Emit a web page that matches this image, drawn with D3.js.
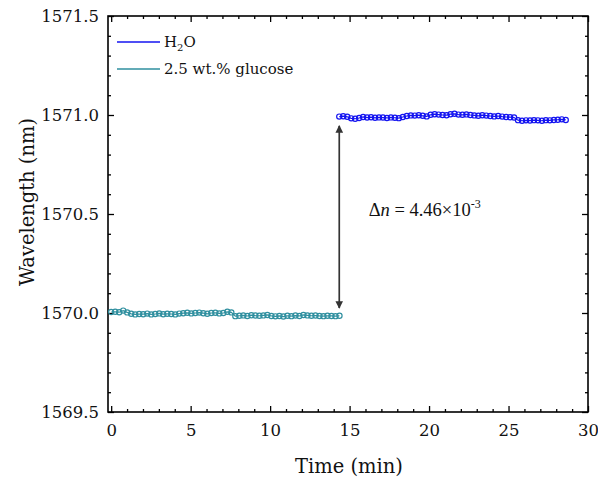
<!DOCTYPE html>
<html>
<head>
<meta charset="utf-8">
<script src="https://cdn.jsdelivr.net/npm/d3@7"></script>
<style>
  body { margin: 0; background: #fff; }
  svg { display: block; font-family: "DejaVu Serif", serif; }
</style>
</head>
<body>
<svg id="chart" width="598" height="480"></svg>
<script>
// sampling: start time and step (min)
const glucoseStart = 0
const glucoseStep = 0.252
const waterStart = 14.35
const waterStep = 0.25

// wavelength readings (nm)
const glucoseValues = [
  1570.005, 1570.006, 1570.004, 1570.012, 1570.003, 1569.996, 1569.993, 1569.995,
  1569.994, 1569.997, 1569.993, 1569.995, 1569.998, 1569.994, 1569.996, 1569.995,
  1569.993, 1569.997, 1569.999, 1570.001, 1569.998, 1570.000, 1570.002, 1569.999,
  1569.996, 1570.000, 1570.001, 1569.998, 1570.000, 1570.006, 1570.003, 1569.984,
  1569.986, 1569.988, 1569.985, 1569.989, 1569.987, 1569.986, 1569.988, 1569.990,
  1569.985, 1569.983, 1569.985, 1569.982, 1569.986, 1569.984, 1569.987, 1569.985,
  1569.990, 1569.988, 1569.986, 1569.987, 1569.985, 1569.984, 1569.986, 1569.985,
  1569.984, 1569.986
]
const waterValues = [
  1570.992, 1570.994, 1570.991, 1570.983, 1570.981, 1570.985, 1570.990, 1570.987,
  1570.989, 1570.986, 1570.988, 1570.987, 1570.985, 1570.988, 1570.986, 1570.984,
  1570.990, 1570.995, 1570.998, 1570.997, 1570.999, 1570.996, 1570.993, 1571.001,
  1571.004, 1571.002, 1571.000, 1570.999, 1571.004, 1571.006, 1571.002, 1571.001,
  1571.003, 1571.000, 1570.998, 1570.996, 1570.999, 1570.997, 1570.995, 1570.993,
  1570.995, 1570.992, 1570.990, 1570.989, 1570.987, 1570.974, 1570.971, 1570.973,
  1570.972, 1570.974, 1570.973, 1570.971, 1570.974, 1570.973, 1570.975, 1570.976,
  1570.978, 1570.975
]

const xTicks = [0, 5, 10, 15, 20, 25, 30]
const yTicks = [1569.5, 1570.0, 1570.5, 1571.0, 1571.5]

const seriesColors = {water: "#1414f0", glucose: "#2f8f9f"}

const arrowTime = 14.35
const arrowFrom = 1570.025
const arrowTo = 1570.945

const width = 598, height = 480
const m = {top: 16, right: 10, bottom: 68, left: 108}
const iw = width - m.left - m.right
const ih = height - m.top - m.bottom

const svg = d3.select("#chart")
const x = d3.scaleLinear().domain([-0.2, 30]).range([0, iw])
const y = d3.scaleLinear().domain([1569.5, 1571.5]).range([ih, 0])

const g = svg.append("g").attr("transform", `translate(${m.left},${m.top})`)

const toPoints = (vals, t0, dt) => vals.map((v, i) => ({t: t0 + i * dt, v}))
const glucose = toPoints(glucoseValues, glucoseStart, glucoseStep)
const water = toPoints(waterValues, waterStart, waterStep)

// ticks: inward, mirrored on all four sides
const minorX = d3.range(0, 31, 1).filter((d) => !xTicks.includes(d))
const minorY = d3.range(15695, 15716, 1).map((d) => d / 10).filter((d) => !yTicks.includes(d))

const tickStyle = (gg) => {
  gg.select(".domain").remove()
  gg.selectAll("line").attr("stroke", "#000").attr("stroke-width", 1.3)
}

g.append("g").attr("transform", `translate(0,${ih})`)
  .call(d3.axisBottom(x).tickValues(xTicks).tickSize(-6).tickPadding(12).tickFormat(d3.format("d")))
  .call(tickStyle)
  .call((gg) => gg.selectAll("text").attr("font-size", 16.5).attr("fill", "#111").attr("font-family", "DejaVu Serif"))
g.append("g").attr("transform", `translate(0,${ih})`)
  .call(d3.axisBottom(x).tickValues(minorX).tickSize(-3).tickFormat(""))
  .call(tickStyle)
g.append("g")
  .call(d3.axisTop(x).tickValues(xTicks).tickSize(-6).tickFormat(""))
  .call(tickStyle)
g.append("g")
  .call(d3.axisTop(x).tickValues(minorX).tickSize(-3).tickFormat(""))
  .call(tickStyle)

g.append("g")
  .call(d3.axisLeft(y).tickValues(yTicks).tickSize(-6).tickPadding(9).tickFormat(d3.format(".1f")))
  .call(tickStyle)
  .call((gg) => gg.selectAll("text").attr("font-size", 16.5).attr("fill", "#111").attr("font-family", "DejaVu Serif"))
g.append("g")
  .call(d3.axisLeft(y).tickValues(minorY).tickSize(-3).tickFormat(""))
  .call(tickStyle)
g.append("g").attr("transform", `translate(${iw},0)`)
  .call(d3.axisRight(y).tickValues(yTicks).tickSize(-6).tickFormat(""))
  .call(tickStyle)
g.append("g").attr("transform", `translate(${iw},0)`)
  .call(d3.axisRight(y).tickValues(minorY).tickSize(-3).tickFormat(""))
  .call(tickStyle)

g.append("rect")
  .attr("width", iw).attr("height", ih)
  .attr("fill", "none").attr("stroke", "#000").attr("stroke-width", 1.6)

// data
const line = d3.line().x((d) => x(d.t)).y((d) => y(d.v))

const drawSeries = (data, color) => {
  g.append("path").datum(data)
    .attr("d", line).attr("fill", "none")
    .attr("stroke", color).attr("stroke-width", 1.2)
  g.append("g").selectAll("circle").data(data).join("circle")
    .attr("cx", (d) => x(d.t)).attr("cy", (d) => y(d.v))
    .attr("r", 2.6).attr("fill", "none")
    .attr("stroke", color).attr("stroke-width", 1.2)
}
drawSeries(glucose, seriesColors.glucose)
drawSeries(water, seriesColors.water)

// double arrow
svg.append("defs").append("marker")
  .attr("id", "ah").attr("viewBox", "0 0 10 10")
  .attr("refX", 9).attr("refY", 5)
  .attr("markerWidth", 4.5).attr("markerHeight", 4.5)
  .attr("orient", "auto-start-reverse")
  .append("path").attr("d", "M0,0 L10,5 L0,10 z").attr("fill", "#333")

g.append("line")
  .attr("x1", x(arrowTime)).attr("x2", x(arrowTime))
  .attr("y1", y(arrowFrom)).attr("y2", y(arrowTo))
  .attr("stroke", "#333").attr("stroke-width", 1.7)
  .attr("marker-start", "url(#ah)").attr("marker-end", "url(#ah)")

const ann = g.append("text")
  .attr("x", x(16.2)).attr("y", y(1570.49))
  .attr("font-size", 18.5).attr("font-family", "Liberation Serif, serif").attr("fill", "#111")
ann.append("tspan").text("\u0394")
ann.append("tspan").attr("font-style", "italic").text("n")
ann.append("tspan").text(" = 4.46\u00d710")
ann.append("tspan").attr("font-size", 12).attr("dy", -8).text("-3")

// legend
const legendItems = [
  {key: "water", y: 26},
  {key: "glucose", y: 53},
]
const lg = g.append("g").attr("transform", "translate(9,0)")
lg.selectAll("line").data(legendItems).join("line")
  .attr("x1", 0).attr("x2", 43)
  .attr("y1", (d) => d.y).attr("y2", (d) => d.y)
  .attr("stroke", (d) => seriesColors[d.key]).attr("stroke-width", 1.5)

const t1 = lg.append("text").attr("x", 47).attr("y", 31)
  .attr("font-size", 15).attr("font-family", "DejaVu Serif").attr("fill", "#111")
t1.append("tspan").text("H")
t1.append("tspan").attr("font-size", 10).attr("dy", 4).text("2")
t1.append("tspan").attr("dy", -4).text("O")
lg.append("text").attr("x", 47).attr("y", 58)
  .attr("font-size", 15).attr("font-family", "DejaVu Serif").attr("fill", "#111")
  .text("2.5 wt.% glucose")

// axis titles
svg.append("text")
  .attr("x", m.left + iw / 2 + 1).attr("y", 473)
  .attr("text-anchor", "middle").attr("font-size", 19.5).attr("fill", "#111")
  .text("Time (min)")
svg.append("text")
  .attr("transform", `translate(34,${m.top + ih / 2 - 12}) rotate(-90)`)
  .attr("text-anchor", "middle").attr("font-size", 19.5).attr("fill", "#111")
  .text("Wavelength (nm)")
</script>
</body>
</html>
